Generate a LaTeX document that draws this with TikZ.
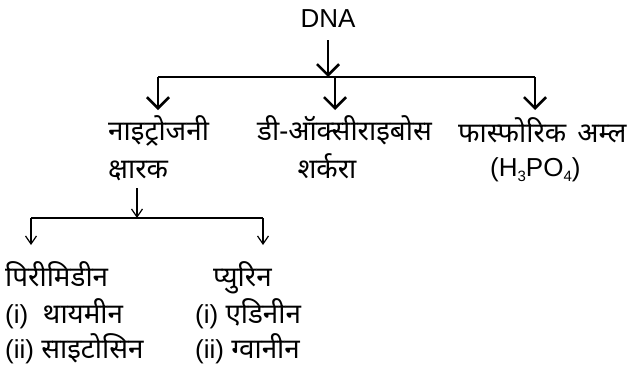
\documentclass[tikz,border=0pt]{standalone}
\usepackage{fontspec}
\setmainfont{Liberation Sans}
\newfontfamily\hindi[Script=Devanagari,Scale=1.07]{Noto Sans}
\usetikzlibrary{arrows.meta,positioning,calc}
\newcommand{\lowsub}[1]{\raisebox{-5pt}{\fontsize{15}{15}\selectfont #1}}

\begin{document}
\begin{tikzpicture}[x=1pt,y=-1pt,
  txt/.style={inner sep=0pt,anchor=base west,font=\fontsize{26}{30}\selectfont},
  bigarr/.style={line width=2.6pt,-{Straight Barb[length=11pt,width=22pt,line width=2.6pt]}},
  smallarr/.style={line width=1.2pt,-{Straight Barb[length=8pt,width=11pt,line width=1.2pt]}},
  bigline/.style={line width=2.6pt},
  smallline/.style={line width=1.2pt}]
\useasboundingbox (0,0) rectangle (637,375);
% first level
\node[txt,anchor=base] (dna) at (328,27) {DNA};
\node[txt] (nitro) at (108,140) {\hindi नाइट्रोजनी};
\node[txt] (ksharak) at (108,178) {\hindi क्षारक};
\node[txt] (deoxy) at (257,140) {\hindi डी-ऑक्सीराइबोस};
\node[txt,anchor=base] (sharkara) at (327,178) {\hindi शर्करा};
\node[txt] (phos) at (458,142) {\hindi फास्फोरिक\hspace{11pt}अम्ल};
\node[txt] (hpo) at (490,176) {(H\lowsub{3}PO\lowsub{4})};
\coordinate (j1) at (328,77);
\coordinate (a1) at (158,110);
\coordinate (a2) at (335,110);
\coordinate (a3) at (535,110);
\draw[bigarr] (328,40) -- (j1);
\draw[bigline] (j1 -| a1) -- (j1 -| a3);
\draw[bigarr] (j1 -| a1) -- (a1);
\draw[bigarr] (j1 -| a2) -- (a2);
\draw[bigarr] (j1 -| a3) -- (a3);
% second level
\node[txt] (pyri) at (5,286) {\hindi पिरीमिडीन};
\node[txt] (thy) at (5,323) {(i)\ \ \hindi थायमीन};
\node[txt] (cyto) at (5,358) {(ii) \hindi साइटोसिन};
\node[txt] (puri) at (213,286) {\hindi प्युरिन};
\node[txt] (ade) at (195,323) {(i) \hindi एडिनीन};
\node[txt] (gua) at (195,358) {(ii) \hindi ग्वानीन};
\coordinate (j2) at (137,218);
\coordinate (b1) at (31,245);
\coordinate (b2) at (263,245);
\draw[smallarr] (137,188) -- (j2);
\draw[smallline] (j2 -| b1) -- (j2 -| b2);
\draw[smallarr] (j2 -| b1) -- (b1);
\draw[smallarr] (j2 -| b2) -- (b2);
\end{tikzpicture}
\end{document}
